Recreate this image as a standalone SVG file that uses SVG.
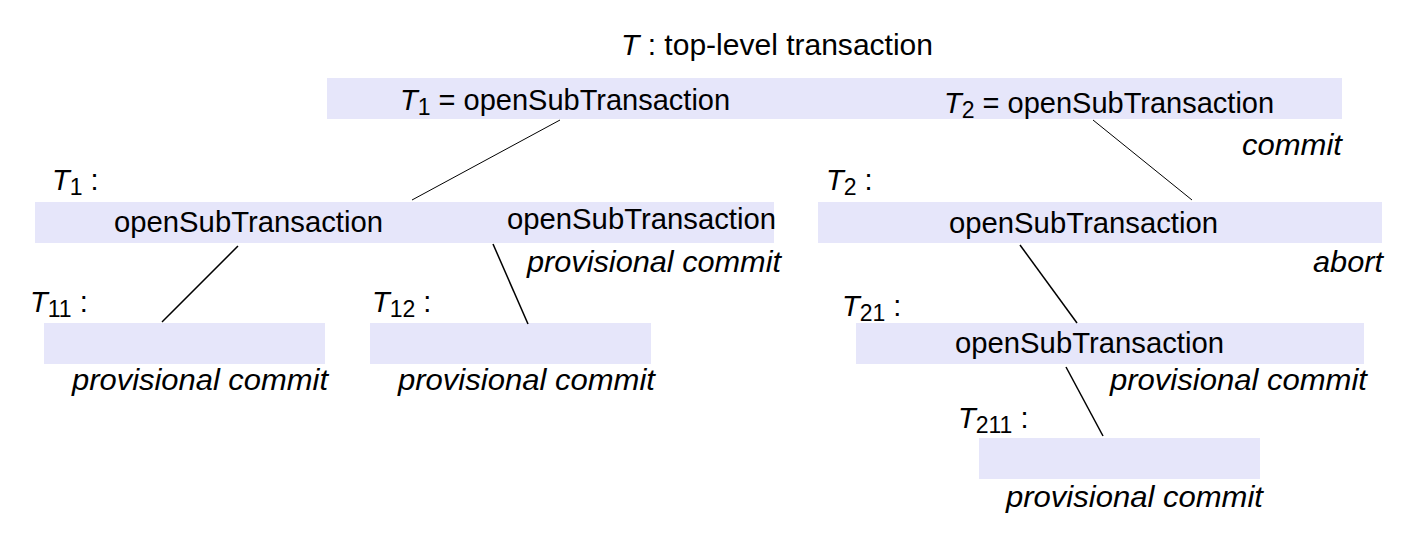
<svg xmlns="http://www.w3.org/2000/svg" width="1410" height="542" viewBox="0 0 1410 542">
<style>
text{font-family:"Liberation Sans",Arial,sans-serif;font-size:29px;fill:#000}
.it{font-style:italic}
.sub{font-size:23px}
.box{fill:#e6e6fa}
.c line{stroke:#000;stroke-width:1.5}
.c line.thin{stroke-width:1}
</style>
<rect width="1410" height="542" fill="#fff"/>
<g id="top">
<text x="621" y="55" textLength="312" lengthAdjust="spacingAndGlyphs"><tspan class="it">T</tspan> : top-level transaction</text>
<rect class="box" x="327" y="78" width="1015" height="41"/>
<text x="400" y="110"><tspan class="it">T</tspan><tspan class="sub" dy="5">1</tspan><tspan dy="-5"> = openSubTransaction</tspan></text>
<text x="944" y="113"><tspan class="it">T</tspan><tspan class="sub" dy="5">2</tspan><tspan dy="-5"> = openSubTransaction</tspan></text>
<text class="it" x="1242" y="155" textLength="100" lengthAdjust="spacingAndGlyphs">commit</text>
</g>
<g id="t1">
<text x="52" y="190"><tspan class="it">T</tspan><tspan class="sub" dy="5">1</tspan><tspan dy="-5"> :</tspan></text>
<rect class="box" x="35" y="202" width="739" height="41"/>
<text x="114" y="232" textLength="269" lengthAdjust="spacingAndGlyphs">openSubTransaction</text>
<text x="507" y="229" textLength="269" lengthAdjust="spacingAndGlyphs">openSubTransaction</text>
<text class="it" x="527" y="272" textLength="254" lengthAdjust="spacingAndGlyphs">provisional commit</text>
</g>
<g id="t2">
<text x="826" y="190"><tspan class="it">T</tspan><tspan class="sub" dy="5">2</tspan><tspan dy="-5"> :</tspan></text>
<rect class="box" x="818" y="202" width="564" height="41"/>
<text x="949" y="233" textLength="269" lengthAdjust="spacingAndGlyphs">openSubTransaction</text>
<text class="it" x="1313" y="272" textLength="70" lengthAdjust="spacingAndGlyphs">abort</text>
</g>
<g id="t11">
<text x="30" y="312"><tspan class="it">T</tspan><tspan class="sub" dy="5">11</tspan><tspan dy="-5"> :</tspan></text>
<rect class="box" x="44" y="323" width="281" height="41"/>
<text class="it" x="72" y="390" textLength="256" lengthAdjust="spacingAndGlyphs">provisional commit</text>
</g>
<g id="t12">
<text x="372" y="312"><tspan class="it">T</tspan><tspan class="sub" dy="5">12</tspan><tspan dy="-5"> :</tspan></text>
<rect class="box" x="370" y="323" width="281" height="41"/>
<text class="it" x="398" y="390" textLength="257" lengthAdjust="spacingAndGlyphs">provisional commit</text>
</g>
<g id="t21">
<text x="842" y="316"><tspan class="it">T</tspan><tspan class="sub" dy="5">21</tspan><tspan dy="-5"> :</tspan></text>
<rect class="box" x="856" y="323" width="508" height="41"/>
<text x="955" y="353" textLength="269" lengthAdjust="spacingAndGlyphs">openSubTransaction</text>
<text class="it" x="1110" y="390" textLength="257" lengthAdjust="spacingAndGlyphs">provisional commit</text>
</g>
<g id="t211">
<text x="958" y="428"><tspan class="it">T</tspan><tspan class="sub" dy="5">211</tspan><tspan dy="-5"> :</tspan></text>
<rect class="box" x="979" y="438" width="281" height="41"/>
<text class="it" x="1006" y="507" textLength="257" lengthAdjust="spacingAndGlyphs">provisional commit</text>
</g>
<g id="connectors" class="c">
<line class="thin" x1="560" y1="120" x2="412" y2="200"/>
<line class="thin" x1="1093" y1="120" x2="1192" y2="200"/>
<line x1="238" y1="246" x2="162" y2="322"/>
<line x1="493" y1="244" x2="528" y2="324"/>
<line x1="1020" y1="245" x2="1077" y2="323"/>
<line x1="1066" y1="367" x2="1103" y2="436"/>
</g>
</svg>
